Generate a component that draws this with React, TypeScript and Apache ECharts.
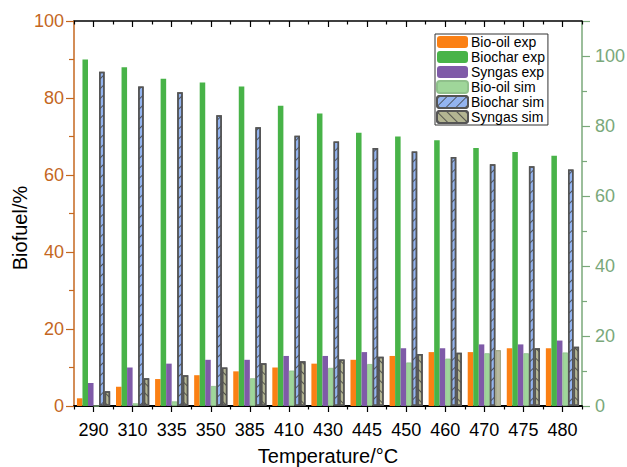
import React, { useEffect, useRef } from "react";
import * as echarts from "echarts";

const categories = ["290", "310", "335", "350", "385", "410", "430", "445", "450", "460", "470", "475", "480"];
const bioOilExp = [2, 5, 7, 8, 9, 10, 11, 12, 13, 14, 14, 15, 15];
const biocharExp = [90, 88, 85, 84, 83, 78, 76, 71, 70, 69, 67, 66, 65];
const syngasExp = [6, 10, 11, 12, 12, 13, 13, 14, 15, 15, 16, 16, 17];
const bioOilSim = [0, 0.7, 1.2, 5.2, 7.2, 9.2, 9.9, 10.9, 11.3, 12.3, 13.7, 13.7, 13.9];
const biocharSim = [86.8, 83.0, 81.5, 75.5, 72.4, 70.2, 68.7, 67.0, 66.1, 64.7, 62.8, 62.3, 61.4];
const syngasSim = [3.8, 7.2, 8.0, 10.0, 11.1, 11.6, 12.1, 12.8, 13.5, 13.8, 14.5, 15.0, 15.4];

const FONT = "Arial, 'Liberation Sans', sans-serif";
const LEFT_COLOR = "#c4671f";
const RIGHT_COLOR = "#7aa87a";

export default function App() {
  const ref = useRef<HTMLDivElement>(null);
  useEffect(() => {
    if (!ref.current) return;
    const chart = echarts.init(ref.current, null, { renderer: "svg" });
    const hatchSlash = {
      symbol: "rect",
      symbolSize: 1,
      color: "rgba(60,60,60,0.8)",
      dashArrayX: [[1, 0]],
      dashArrayY: [1, 6],
      rotation: -Math.PI / 4,
    };
    const hatchBack = { ...hatchSlash, rotation: Math.PI / 4 };
    const mkCatAxis = (pos: string, opts: any) => ({
      type: "category",
      data: categories,
      position: pos,
      boundaryGap: true,
      axisLabel: { show: false },
      splitLine: { show: false },
      ...opts,
    });
    const option: any = {
      animation: false,
      textStyle: { fontFamily: FONT },
      grid: { left: 74, right: 45, top: 21, bottom: 61, containLabel: false, outerBoundsMode: "none" },
      legend: {
        orient: "vertical",
        left: 435,
        top: 34,
        width: 121,
        itemWidth: 31,
        itemHeight: 12,
        itemGap: 1,
        padding: [1, 3, 1, 1],
        borderColor: "#333",
        borderWidth: 1,
        backgroundColor: "#fff",
        textStyle: { fontSize: 14, color: "#000", fontFamily: FONT, padding: [0, 0, 0, -2] },
        data: ["Bio-oil exp", "Biochar exp", "Syngas exp", "Bio-oil sim", "Biochar sim", "Syngas sim"],
      },
      xAxis: [
        mkCatAxis("bottom", {
          name: "Temperature/°C",
          nameLocation: "middle",
          nameGap: 40,
          nameMoveOverlap: false,
          nameTextStyle: { fontSize: 20, color: "#000", fontFamily: FONT },
          axisLine: { show: true, lineStyle: { color: "#000", width: 2 } },
          axisTick: { show: true, alignWithLabel: true, interval: 0, length: 6, lineStyle: { color: "#000", width: 1.2 } },
          axisLabel: { show: true, interval: 0, fontSize: 18, color: "#000", margin: 15, fontFamily: FONT },
        }),
        mkCatAxis("bottom", {
          axisLine: { show: false },
          axisTick: { show: true, interval: 0, length: 3.5, lineStyle: { color: "#000", width: 1.2 } },
        }),
        mkCatAxis("top", {
          axisLine: { show: true, lineStyle: { color: "#000", width: 1.5 } },
          axisTick: { show: true, inside: true, interval: 0, alignWithLabel: true, length: 6, lineStyle: { color: "#000", width: 1.2 } },
        }),
        mkCatAxis("top", {
          axisLine: { show: false },
          axisTick: { show: true, inside: true, interval: 0, length: 3.5, lineStyle: { color: "#000", width: 1.2 } },
        }),
      ],
      yAxis: [
        {
          type: "value",
          position: "left",
          min: 0,
          max: 100,
          interval: 20,
          name: "Biofuel/%",
          nameLocation: "middle",
          nameGap: 44,
          nameMoveOverlap: false,
          nameTextStyle: { fontSize: 20, color: "#000", fontFamily: FONT, padding: [0, 29, 0, 0] },
          axisLine: { show: true, lineStyle: { color: LEFT_COLOR, width: 1.5 } },
          axisTick: { show: true, length: 8, lineStyle: { color: LEFT_COLOR, width: 1.2 } },
          minorTick: { show: true, splitNumber: 2, length: 5, lineStyle: { color: LEFT_COLOR, width: 1.2 } },
          axisLabel: { color: LEFT_COLOR, fontSize: 18, margin: 10, fontFamily: FONT },
          splitLine: { show: false },
          minorSplitLine: { show: false },
        },
        {
          type: "value",
          position: "right",
          min: 0,
          max: 110,
          interval: 20,
          axisLine: { show: true, lineStyle: { color: RIGHT_COLOR, width: 1.5 } },
          axisTick: { show: true, length: 8, lineStyle: { color: RIGHT_COLOR, width: 1.2 } },
          minorTick: { show: true, splitNumber: 2, length: 5, lineStyle: { color: RIGHT_COLOR, width: 1.2 } },
          axisLabel: {
            color: RIGHT_COLOR,
            fontSize: 18,
            margin: 13,
            fontFamily: FONT,
            showMaxLabel: false,
            formatter: (v: number) => (v > 100 ? "" : String(v)),
          },
          splitLine: { show: false },
          minorSplitLine: { show: false },
        },
      ],
      series: [
        {
          name: "Bio-oil exp",
          type: "bar",
          data: bioOilExp,
          barGap: "0%",
          barCategoryGap: "15%",
          itemStyle: { color: "#fb8014" },
        },
        { name: "Biochar exp", type: "bar", data: biocharExp, itemStyle: { color: "#48b348" } },
        { name: "Syngas exp", type: "bar", data: syngasExp, itemStyle: { color: "#7f5aa8" } },
        {
          name: "Bio-oil sim",
          type: "bar",
          data: bioOilSim,
          itemStyle: { color: "#9fd69a", borderColor: "#8fc08b", borderWidth: 0.8 },
        },
        {
          name: "Biochar sim",
          type: "bar",
          data: biocharSim,
          itemStyle: { color: "#93b4f0", borderColor: "#555", borderWidth: 1.5, decal: hatchSlash },
        },
        {
          name: "Syngas sim",
          type: "bar",
          data: syngasSim.map((v, i) =>
            categories[i] === "470"
              ? { value: v, itemStyle: { color: "#b8baa0", borderColor: "#a4a88a", borderWidth: 1, decal: { symbol: "none" } } }
              : v
          ),
          itemStyle: { color: "#b3b592", borderColor: "#555", borderWidth: 1.5, decal: hatchBack },
        },
      ],
    };
    chart.setOption(option);
    return () => chart.dispose();
  }, []);
  return <div ref={ref} style={{ position: "fixed", left: 0, top: 0, width: 627, height: 467, background: "#fff" }} />;
}
